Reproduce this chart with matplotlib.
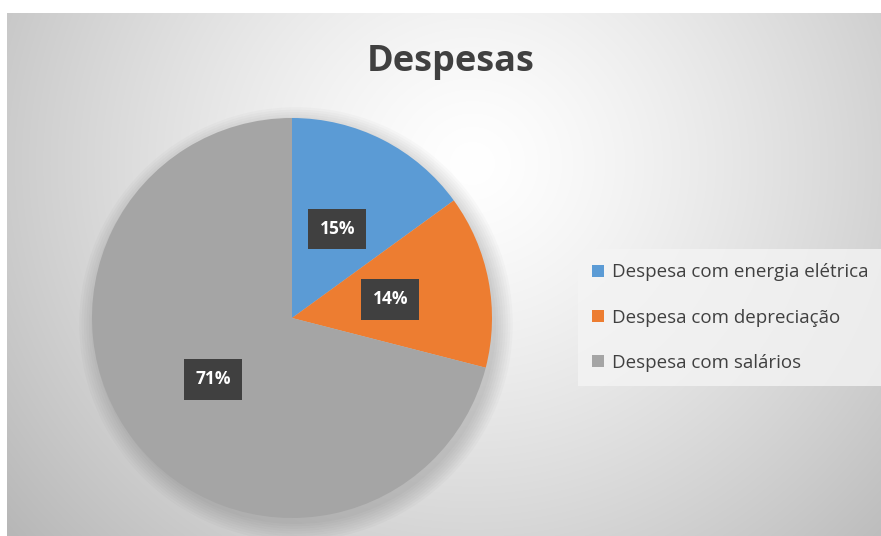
import numpy as np
import matplotlib.pyplot as plt
from matplotlib.patches import Circle

# dados do grafico
categorias = ['Despesa com energia elétrica', 'Despesa com depreciação', 'Despesa com salários']
valores = [15, 14, 71]
cores = ['#5B9BD5', '#ED7D31', '#A5A5A5']

W, H = 881, 536
fig = plt.figure(figsize=(W / 100, H / 100), dpi=100)
fig.patch.set_facecolor('white')

# fundo com gradiente radial (estilo Excel)
bg = fig.add_axes([7 / W, 0, 1 - 7 / W, 1 - 13 / H])
yy, xx = np.mgrid[0:523, 0:874]
d = np.sqrt(((xx - 465) / 1.0) ** 2 + ((yy - 150) / 0.95) ** 2)
g = 1.0 - 0.22 * np.clip(d / 500, 0, 1.2) ** 1.3
bg.imshow(np.dstack([g, g, g]), aspect='auto', interpolation='bilinear')
bg.axis('off')

# pizza
ax = fig.add_axes([92 / W, 18 / H, 400 / W, 400 / H])
for i in range(8):
    ax.add_patch(Circle((0.02, -0.03), 1.0 + 0.012 * i, color='black', alpha=0.018, lw=0,
                        clip_on=False))
wedges, textos, pcts = ax.pie(valores, colors=cores, startangle=90, counterclock=False,
                              autopct='%1.0f%%', pctdistance=0.5,
                              wedgeprops=dict(linewidth=0),
                              textprops=dict(color='white', fontsize=12.5, fontweight='bold',
                                             family='Open Sans'))
for t in pcts:
    t.set_bbox(dict(boxstyle='square,pad=0.65', fc='#404040', ec='none'))
ax.set_xlim(-1, 1)
ax.set_ylim(-1, 1)
ax.axis('off')

fig.text(451 / W, 1 - 62 / H, 'Despesas', ha='center', va='center', fontsize=26,
         fontweight='bold', color='#404040', family='Open Sans')

leg = fig.legend(wedges, categorias, loc='upper left', bbox_to_anchor=(584 / W, 1 - 255 / H),
                 frameon=True, handlelength=0.6, handleheight=0.6,
                 handletextpad=0.45, labelspacing=1.45, borderpad=0.45, borderaxespad=0,
                 prop=dict(family='Open Sans', size=13.5))
leg.get_frame().set_facecolor('#f4f4f4')
leg.get_frame().set_alpha(0.8)
leg.get_frame().set_edgecolor('none')
leg.get_frame().set_boxstyle('square')
for t in leg.get_texts():
    t.set_color('#404040')

fig.savefig('out.png', dpi=100)
